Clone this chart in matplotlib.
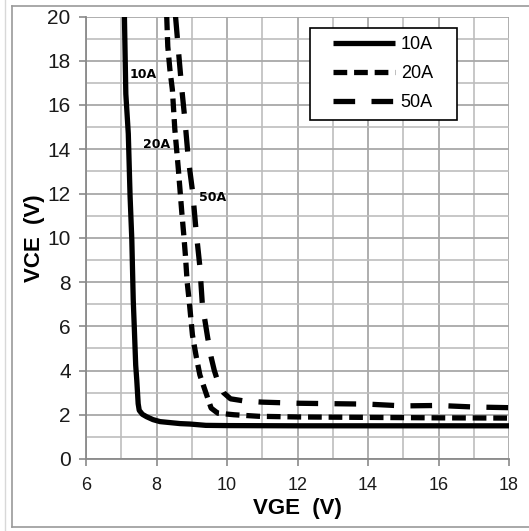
import matplotlib
matplotlib.use("Agg")
import matplotlib.pyplot as plt
from matplotlib.lines import Line2D
from matplotlib.legend_handler import HandlerLine2D
from matplotlib.ticker import MultipleLocator

# ---- data ----
vge_10a = [7.09, 7.13, 7.2, 7.25, 7.30, 7.34, 7.37, 7.41, 7.44, 7.48, 7.51, 7.6, 7.72, 7.9, 8.1, 8.67, 8.95, 9.4, 10.0, 12.0, 14.0, 16.0, 18.0]
vce_10a = [20.0, 16.5, 14.7, 11.9, 9.9, 7.2, 5.95, 4.24, 3.57, 2.5, 2.2, 2.02, 1.91, 1.78, 1.69, 1.6, 1.58, 1.52, 1.51, 1.5, 1.5, 1.5, 1.5]

vge_20a = [8.29, 8.32, 8.38, 8.45, 8.52, 8.57, 8.62, 8.67, 8.72, 8.77, 8.82, 8.87, 8.93, 9.02, 9.13, 9.23, 9.4, 9.55, 9.74, 10.2, 10.9, 12.0, 14.0, 16.0, 18.0]
vce_20a = [20.0, 18.65, 17.6, 16.7, 14.9, 14.0, 13.1, 12.1, 11.1, 10.2, 9.2, 8.0, 7.1, 5.6, 4.6, 3.8, 3.0, 2.3, 2.07, 2.0, 1.93, 1.9, 1.88, 1.86, 1.85]

vge_50a = [8.54, 8.62, 8.71, 8.81, 8.9, 9.03, 9.12, 9.23, 9.3, 9.45, 9.55, 9.64, 9.74, 9.9, 10.1, 10.5, 11.0, 12.0, 13.0, 14.0, 15.0, 16.0, 17.0, 18.0]
vce_50a = [20.0, 18.5, 16.85, 15.26, 13.6, 12.0, 10.36, 8.7, 7.0, 5.5, 4.6, 4.0, 3.5, 3.0, 2.72, 2.62, 2.57, 2.52, 2.5, 2.48, 2.4, 2.42, 2.35, 2.32]

series_labels = ["10A", "20A", "50A"]
x_label = "VGE  (V)"
y_label = "VCE  (V)"

# ---- figure ----
W, H = 529, 531
fig = plt.figure(figsize=(W / 100, H / 100), dpi=100)
fig.patch.set_facecolor("white")

def fx(p):
    return p / W

def fy(p):
    return 1 - p / H

# outer frame like the screenshot
fig.add_artist(Line2D([fx(12), fx(12)], [fy(6), fy(527)], color="#9a9a9a", lw=1.2, transform=fig.transFigure))
fig.add_artist(Line2D([fx(12), 1.0], [fy(6), fy(6)], color="#9a9a9a", lw=1.2, transform=fig.transFigure))
fig.add_artist(Line2D([fx(12), 1.0], [fy(527), fy(527)], color="#9a9a9a", lw=1.2, transform=fig.transFigure))
fig.add_artist(Line2D([fx(4.7), fx(4.7)], [fy(0), fy(531)], color="#d8d8d8", lw=1.0, transform=fig.transFigure))

ax = fig.add_axes([fx(86), fy(459), (509 - 86) / W, (459 - 16.5) / H])

lw = 3.8
l1, = ax.plot(vge_10a, vce_10a, color="black", lw=lw, solid_capstyle="butt", solid_joinstyle="round", label=series_labels[0])
l2, = ax.plot(vge_20a, vce_20a, color="black", lw=lw, dashes=(2.6, 1.3), dash_capstyle="butt", label=series_labels[1])
l3, = ax.plot(vge_50a, vce_50a, color="black", lw=lw, dashes=(4.1, 3.1), dash_capstyle="butt", label=series_labels[2])

ax.set_xlim(6, 18)
ax.set_ylim(0, 20)
ax.xaxis.set_major_locator(MultipleLocator(2))
ax.yaxis.set_major_locator(MultipleLocator(2))
ax.xaxis.set_minor_locator(MultipleLocator(1))
ax.yaxis.set_minor_locator(MultipleLocator(1))
ax.grid(which="major", color="#a8a8a8", lw=1.3)
ax.grid(which="minor", color="#bdbdbd", lw=1.2)
ax.set_axisbelow(True)

for s in ["top", "right"]:
    ax.spines[s].set_visible(False)
for s in ["left", "bottom"]:
    ax.spines[s].set_color("#8a8a8a")
    ax.spines[s].set_linewidth(1.3)

font = "Liberation Sans"
ax.tick_params(which="major", length=5, width=1.2, color="#8a8a8a")
ax.tick_params(which="minor", length=0)
ax.tick_params(axis="y", labelsize=15, pad=6)
ax.tick_params(axis="x", labelsize=13, pad=8)
for t in ax.get_xticklabels() + ax.get_yticklabels():
    t.set_fontfamily(font)
    t.set_color("#1a1a1a")

ax.set_xlabel(x_label, fontsize=16, fontweight="bold", fontfamily=font, labelpad=3)
ax.set_ylabel(y_label, fontsize=16, fontweight="bold", fontfamily=font, labelpad=2)

# in-plot labels
ann_kw = dict(fontsize=9, fontweight="bold", fontfamily="DejaVu Sans", va="center", ha="left")
ax.text(7.23, 17.4, series_labels[0], **ann_kw)
ax.text(7.63, 14.23, series_labels[1], **ann_kw)
ax.text(9.21, 11.82, series_labels[2], **ann_kw)

# legend
fs = 13
hmap = {h: HandlerLine2D(xpad=0.8) for h in (l1, l2, l3)}
leg = ax.legend(handles=[l1, l2, l3], loc="upper left",
                bbox_to_anchor=(0.5296, 0.70, 0.3475, 0.2747), mode="expand",
                borderaxespad=0, borderpad=0.47, handlelength=4.25, handletextpad=0.3,
                labelspacing=0.67, fancybox=False, framealpha=1, edgecolor="black",
                prop={"family": font, "size": fs}, handler_map=hmap)
leg.get_frame().set_linewidth(1.2)

fig.savefig("out.png", dpi=100)
